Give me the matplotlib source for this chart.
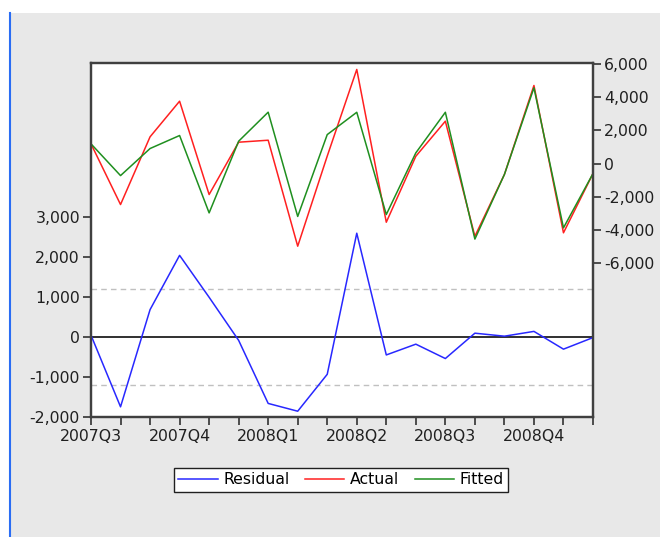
import matplotlib
matplotlib.use("Agg")
import matplotlib.pyplot as plt
from matplotlib.ticker import FixedLocator, FuncFormatter
from matplotlib.lines import Line2D
from matplotlib.patches import Rectangle

plt.rcParams['font.family'] = ['DejaVu Sans']

# ---- data (monthly, 2007M07 .. 2008M12) ----
periods = list(range(18))
quarter_labels = ["2007Q3", "2007Q4", "2008Q1", "2008Q2", "2008Q3", "2008Q4"]
quarter_pos = [0, 3, 6, 9, 12, 15]
residual = [50, -1745, 690, 2050, 1000, -80, -1660, -1855, -930, 2605,
            -445, -175, -535, 100, 25, 145, -300, -10]
actual = [1190, -2480, 1615, 3770, -1875, 1290, 1410, -5000, 450, 5690,
          -3550, 440, 2560, -4400, -660, 4720, -4190, -605]
fitted = [1190, -730, 907, 1694, -2985, 1350, 3105, -3200, 1750, 3100,
          -3085, 645, 3100, -4570, -660, 4580, -3890, -605]
resid_sd = 1200
left_ticks = [-2000, -1000, 0, 1000, 2000, 3000]
right_ticks = [-6000, -4000, -2000, 0, 2000, 4000, 6000]

W, H = 660, 537
fig = plt.figure(figsize=(W / 100, H / 100), dpi=100)
fig.patch.set_facecolor('white')
fig.add_artist(Rectangle((11 / W, 0), 1 - 11 / W, 1 - 13 / H,
                         transform=fig.transFigure, facecolor='#e8e8e8',
                         edgecolor='none', zorder=-10))
fig.add_artist(Line2D([10.5 / W, 10.5 / W], [0, 1 - 13 / H],
                      transform=fig.transFigure, color='#2a6df4', lw=1.5))

left, right, top, bottom = 91, 593, 63, 417
ax = fig.add_axes([left / W, 1 - bottom / H, (right - left) / W, (bottom - top) / H])
ax.set_facecolor('white')
ax2 = ax.twinx()

spine_col = '#404040'
fmt = FuncFormatter(lambda v, p: f"{int(round(v)):,}")
fs = 11.3

# residual axis
ax.axhline(resid_sd, color='#c0c0c0', lw=1, ls=(0, (4, 3)), zorder=1)
ax.axhline(-resid_sd, color='#c0c0c0', lw=1, ls=(0, (4, 3)), zorder=1)
ax.axhline(0, color='#202020', lw=1.3, zorder=2)
l_res, = ax.plot(periods, residual, color='#2828ff', lw=1.1, label='Residual', zorder=3)
ax.set_xlim(0, 17)
ax.set_ylim(-2000, 6870)
ax.yaxis.set_major_locator(FixedLocator(left_ticks))
ax.yaxis.set_major_formatter(fmt)

# actual / fitted axis
l_act, = ax2.plot(periods, actual, color='#ff2020', lw=1.1, label='Actual')
l_fit, = ax2.plot(periods, fitted, color='#1f8f1f', lw=1.1, label='Fitted')
ax2.set_ylim(-15330, 6080)
ax2.yaxis.set_major_locator(FixedLocator(right_ticks))
ax2.yaxis.set_major_formatter(fmt)

ax.set_xticks(periods)
ax.set_xticklabels([quarter_labels[quarter_pos.index(i)] if i in quarter_pos else ''
                    for i in periods])

for a in (ax, ax2):
    for s in a.spines.values():
        s.set_color(spine_col)
        s.set_linewidth(1.6)
    a.tick_params(axis='both', direction='out', length=5.5, width=1.3,
                  color=spine_col, labelsize=fs, labelcolor='#202020', pad=2.5)
ax.tick_params(axis='x', pad=3)

fig.legend([l_res, l_act, l_fit], ['Residual', 'Actual', 'Fitted'],
           loc='center', bbox_to_anchor=(341 / W, 1 - 480 / H), ncol=3,
           frameon=True, fancybox=False, edgecolor='#202020', facecolor='white',
           framealpha=1, fontsize=fs, handlelength=2.5, handletextpad=0.35,
           columnspacing=1.0, borderpad=0.3, borderaxespad=0)

fig.savefig('out.png', dpi=100)
